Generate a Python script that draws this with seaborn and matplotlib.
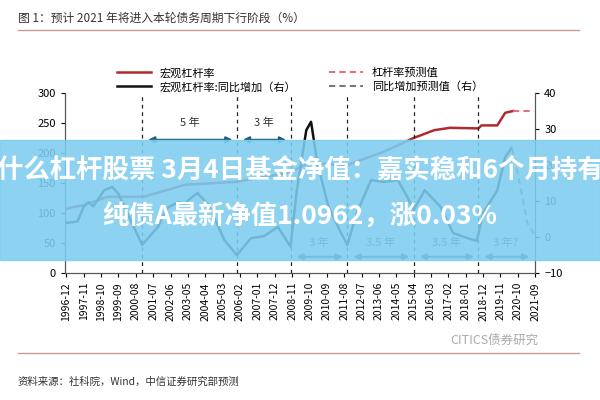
import matplotlib
matplotlib.use("Agg")
import matplotlib.pyplot as plt
import seaborn as sns
import pandas as pd
from matplotlib.patches import Rectangle

plt.rcParams["font.family"] = ["Noto Sans CJK SC", "DejaVu Sans"]

# months since 1996-12
lev_month = [0, 1, 11, 26, 49, 75, 108, 142, 153, 178, 201, 220, 233, 243, 261, 263, 273, 278, 283]
lev_value = [106, 108, 113, 127, 127, 147, 152, 168, 183, 180, 202, 225, 238, 242, 241, 246, 246, 267, 270]
lev_fc_month = [283, 290, 296]
lev_fc_value = [270, 270, 270]

yoy_month = [0, 7, 11, 14, 17, 24, 29, 33, 48, 58, 64, 71, 75, 78, 83, 90, 100, 108, 117, 125, 134, 142,
             146, 152, 155, 159, 166, 174, 178, 184, 193, 201, 210, 216, 220, 227, 237, 245, 254, 260, 264,
             273, 278, 282]
yoy_value = [3.9, 4.3, 8.4, 9.7, 8.5, 13, 13.9, 12, -2.2, 2.8, 8.1, 9.7, 9.3, 10.5, 12.2, 9, -0.8, -5, -0.3,
             0.2, 2.8, -2.7, 13, 29.7, 32, 20.6, 8.4, 1.1, -2.2, 6.7, 15.8, 15.3, 15.8, 11.1, 7.5, 13, 8.4,
             1.1, -0.3, -1.1, 6.7, 13, 22.2, 24.7]
yoy_fc_month = [282, 284, 288, 292, 296]
yoy_fc_value = [24.7, 22, 13, 3.9, 1]

tick_labels = ["1996-12", "1997-11", "1998-10", "1999-09", "2000-08", "2001-07", "2002-06", "2003-05",
               "2004-04", "2005-03", "2006-02", "2007-01", "2007-12", "2008-11", "2009-10", "2010-09",
               "2011-08", "2012-07", "2013-06", "2014-05", "2015-04", "2016-03", "2017-02", "2018-01",
               "2018-12", "2019-11", "2020-10", "2021-09"]
cycle_bounds = [48, 108, 142, 178, 220, 261, 296]
cycle_labels = ["5 年", "3 年", "3 年", "3.5 年", "3.5 年", "3 年?"]

fig = plt.figure(figsize=(6, 4), dpi=100)
ax = fig.add_axes([0.108, 0.3175, 0.784, 0.45])
ax2 = ax.twinx()

red = "#b02a30"
sns.lineplot(x=lev_month, y=lev_value, ax=ax, color=red, lw=1.8, label="宏观杠杆率", legend=False)
sns.lineplot(x=lev_fc_month, y=lev_fc_value, ax=ax, color="#e07080", lw=1.5, ls=(0, (3, 2)),
             label="杠杆率预测值", legend=False)
sns.lineplot(x=yoy_month, y=yoy_value, ax=ax2, color="#111111", lw=1.8,
             label="宏观杠杆率:同比增加（右）", legend=False)
sns.lineplot(x=yoy_fc_month, y=yoy_fc_value, ax=ax2, color="#777777", lw=1.5, ls=(0, (3, 2)),
             label="同比增加预测值（右）", legend=False)

ax.set_xlim(-1, 297)
ax.set_ylim(0, 300)
ax2.set_ylim(-10, 40)
ax.set_yticks(range(0, 301, 50))
ax2.set_yticks(range(-10, 41, 10))
ax.set_xticks(range(0, 298, 11))
ax.set_xticklabels(tick_labels, rotation=90, fontsize=7.5)
ax.tick_params(axis="y", labelsize=8, length=3)
ax2.tick_params(axis="y", labelsize=8, length=3)
ax.tick_params(axis="x", length=3)
for a in (ax, ax2):
    a.spines["top"].set_visible(False)
    a.spines["left"].set_color("#555")
    a.spines["right"].set_color("#555")
    a.spines["bottom"].set_color("#555")
ax.set_xlabel(""); ax.set_ylabel(""); ax2.set_ylabel("")

for b in cycle_bounds[:-1]:
    ax.axvline(b, color="#222", ls=(0, (3, 3)), lw=0.9)

arr = "#1d5f78"
for i in range(len(cycle_labels)):
    a0, a1 = cycle_bounds[i], cycle_bounds[i + 1]
    y_a, y_t = (222, 250) if i < 2 else (27, 50)
    ax.annotate("", xy=(a1 - 1, y_a), xytext=(a0 + 2, y_a),
                arrowprops=dict(arrowstyle="<|-|>", color=arr, lw=1.5, mutation_scale=9))
    ax.text((a0 + a1) / 2, y_t, cycle_labels[i], ha="center", va="center", fontsize=8, color="#333")

h1, l1 = ax.get_legend_handles_labels()
h2, l2 = ax2.get_legend_handles_labels()
fig.legend([h1[0], h2[0], h1[1], h2[1]], [l1[0], l2[0], l1[1], l2[1]],
           ncol=2, loc="center", bbox_to_anchor=(0.5, 0.8), frameon=False, fontsize=8,
           columnspacing=3, handlelength=3, labelspacing=0.3)

fig.text(0.03, 0.955, "图 1：预计 2021 年将进入本轮债务周期下行阶段（%）", fontsize=8.5, color="#333",
         va="center")
fig.add_artist(plt.Line2D([0.03, 0.965], [0.925, 0.925], color="#c99a9a", lw=1))
fig.text(0.75, 0.15, "CITICS债券研究", fontsize=9, color="#aaaaaa", va="center")
fig.add_artist(plt.Line2D([0.03, 0.965], [0.118, 0.118], color="#c99a9a", lw=1))
fig.text(0.03, 0.045, "资料来源：社科院，Wind，中信证券研究部预测", fontsize=7.5, color="#333", va="center")

fig.add_artist(Rectangle((0, 0.35), 1, 0.3, transform=fig.transFigure, color="#7dcdf0", alpha=0.88,
                         zorder=10))
fig.text(0.5, 0.572, "什么杠杆股票 3月4日基金净值：嘉实稳和6个月持有", fontsize=19, color="white",
         fontweight="bold", ha="center", va="center", zorder=11)
fig.text(0.5, 0.458, "纯债A最新净值1.0962，涨0.03%", fontsize=19, color="white",
         fontweight="bold", ha="center", va="center", zorder=11)

fig.savefig("out.png", dpi=100)
